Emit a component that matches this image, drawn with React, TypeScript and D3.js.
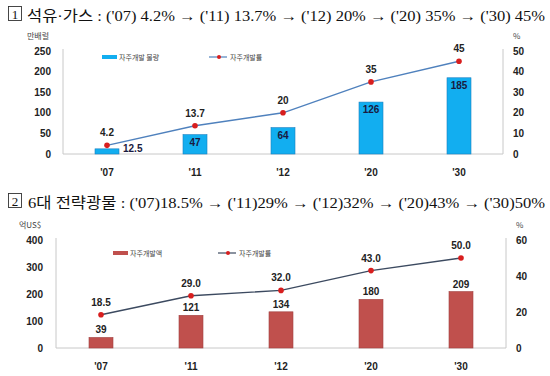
import React from "react";
import * as d3 from "d3";

const years = ["'07", "'11", "'12", "'20", "'30"];
const oilVolume = [12.5, 47, 64, 126, 185];
const oilRate = [4.2, 13.7, 20, 35, 45];
const oilLeftTicks = [0, 50, 100, 150, 200, 250];
const oilRightTicks = [0, 10, 20, 30, 40, 50];
const minAmount = [39, 121, 134, 180, 209];
const minRate = [18.5, 29.0, 32.0, 43.0, 50.0];
const minLeftTicks = [0, 100, 200, 300, 400];
const minRightTicks = [0, 20, 40, 60];

const title1 = "석유·가스 : ('07) 4.2% → ('11) 13.7% → ('12) 20% → ('20) 35% → ('30) 45%";
const title2 = "6대  전략광물 : ('07)18.5% → ('11)29% → ('12)32% → ('20)43% → ('30)50%";

type Cfg = {
  x0: number; x1: number; y0: number; y1: number;
  bars: number[]; rates: number[];
  leftTicks: number[]; rightTicks: number[];
  leftMax: number; rightMax: number;
  barColor: string; barStroke: string; lineColor: string;
  unit: string; barLegend: string; lineLegend: string;
  legendBarX: number; legendLineX: number; legendY: number;
  leftLabelX: number;
  barLabelInside: boolean;
  rateFmt: (v: number) => string;
  barFmt: (v: number) => string;
};

function Chart({ c }: { c: Cfg }) {
  const x = d3.scaleBand<string>().domain(years).range([c.x0, c.x1]);
  const yL = d3.scaleLinear().domain([0, c.leftMax]).range([c.y0, c.y1]);
  const yR = d3.scaleLinear().domain([0, c.rightMax]).range([c.y0, c.y1]);
  const bw = 24;
  const cx = (d: string) => (x(d) as number) + x.bandwidth() / 2;
  const line = d3.line<number>().x((_, i) => cx(years[i])).y((v) => yR(v));
  const tickFont = { fontFamily: "Liberation Sans, Arial, sans-serif", fontWeight: 700, fontSize: 10, fill: "#222" };
  const legFont = { fontFamily: "Noto Sans CJK KR, sans-serif", fontSize: 7, fill: "#444" };
  return (
    <g>
      <line x1={c.x0} x2={c.x0} y1={c.y1 - 2} y2={c.y0} stroke="#c8c8c8" />
      <line x1={c.x1} x2={c.x1} y1={c.y1 - 2} y2={c.y0} stroke="#c8c8c8" />
      <line x1={c.x0} x2={c.x1} y1={c.y0} y2={c.y0} stroke="#c8c8c8" />
      {c.leftTicks.map((t) => (
        <text key={"l" + t} x={c.leftLabelX} y={yL(t) + 3.5} textAnchor="end" {...tickFont}>{t}</text>
      ))}
      {c.rightTicks.map((t) => (
        <text key={"r" + t} x={c.x1 + 10} y={yR(t) + 3.5} textAnchor="start" {...tickFont}>{t}</text>
      ))}
      <text x={c.leftLabelX - 24} y={c.y1 - 12} {...legFont} fontSize={8}>{c.unit}</text>
      <text x={c.x1 + 10} y={c.y1 - 12} {...legFont} fontSize={8}>%</text>
      {years.map((d) => (
        <text key={"c" + d} x={cx(d)} y={c.y0 + 22} textAnchor="middle" {...tickFont}>{d}</text>
      ))}
      {c.bars.map((v, i) => (
        <rect key={"b" + i} x={cx(years[i]) - bw / 2} y={yL(v)} width={bw} height={c.y0 - yL(v)}
          fill={c.barColor} stroke={c.barStroke} strokeWidth={0.6} />
      ))}
      {c.bars.map((v, i) => {
        const bx = cx(years[i]);
        if (c.barLabelInside) {
          if (i === 0) return <text key={"bl" + i} x={bx + 16} y={c.y0 - 2} {...tickFont} fill="#1a1a40">{c.barFmt(v)}</text>;
          return <text key={"bl" + i} x={bx} y={yL(v) + 11} textAnchor="middle" {...tickFont} fill="#1a1a40">{c.barFmt(v)}</text>;
        }
        return <text key={"bl" + i} x={bx} y={yL(v) - 4} textAnchor="middle" {...tickFont}>{c.barFmt(v)}</text>;
      })}
      <path d={line(c.rates) as string} fill="none" stroke={c.lineColor} strokeWidth={1.4} />
      {c.rates.map((v, i) => (
        <circle key={"p" + i} cx={cx(years[i])} cy={yR(v)} r={2.8} fill="#d81e1e" />
      ))}
      {c.rates.map((v, i) => (
        <text key={"pl" + i} x={cx(years[i])} y={yR(v) - 9} textAnchor="middle" {...tickFont}>{c.rateFmt(v)}</text>
      ))}
      <rect x={c.legendBarX} y={c.legendY - 2} width={15} height={4} fill={c.barColor} />
      <text x={c.legendBarX + 17} y={c.legendY + 2.5} {...legFont}>{c.barLegend}</text>
      <line x1={c.legendLineX} x2={c.legendLineX + 18} y1={c.legendY} y2={c.legendY} stroke={c.lineColor} strokeWidth={1.2} />
      <circle cx={c.legendLineX + 10} cy={c.legendY} r={2} fill="#d81e1e" />
      <text x={c.legendLineX + 21} y={c.legendY + 2.5} {...legFont}>{c.lineLegend}</text>
    </g>
  );
}

function Title({ y, num, text, tx, len }: { y: number; num: string; text: string; tx: number; len: number }) {
  return (
    <g>
      <rect x={8.5} y={y - 14.5} width={13} height={14} fill="none" stroke="#333" strokeWidth={0.9} />
      <text x={15} y={y - 2.5} textAnchor="middle" fontFamily="Liberation Serif, serif" fontSize={13} fill="#111">{num}</text>
      <text x={tx} y={y} fontFamily="Liberation Serif, Noto Sans CJK KR, serif" fontSize={15} fill="#111"
        textLength={len} lengthAdjust="spacingAndGlyphs">{text}</text>
    </g>
  );
}

export default function App() {
  const c1: Cfg = {
    x0: 63, x1: 503, y0: 154, y1: 51,
    bars: oilVolume, rates: oilRate, leftTicks: oilLeftTicks, rightTicks: oilRightTicks,
    leftMax: 250, rightMax: 50, barColor: "#12aef0", barStroke: "#1a7fc0", lineColor: "#4f81bd",
    unit: "만배럴", barLegend: "자주개발 물량", lineLegend: "자주개발률",
    legendBarX: 102, legendLineX: 209, legendY: 57, leftLabelX: 51, barLabelInside: true,
    rateFmt: (v) => String(v), barFmt: (v) => String(v),
  };
  const c2: Cfg = {
    x0: 56, x1: 506, y0: 348, y1: 240,
    bars: minAmount, rates: minRate, leftTicks: minLeftTicks, rightTicks: minRightTicks,
    leftMax: 400, rightMax: 60, barColor: "#c0504d", barStroke: "#a04040", lineColor: "#3c4a60",
    unit: "억US$", barLegend: "자주개발액", lineLegend: "자주개발률",
    legendBarX: 113, legendLineX: 218, legendY: 253, leftLabelX: 43, barLabelInside: false,
    rateFmt: (v) => v.toFixed(1), barFmt: (v) => String(v),
  };
  return (
    <svg width={550} height={376} style={{ position: "absolute", left: 0, top: 0, background: "#fff" }}>
      <rect width={550} height={376} fill="#fff" />
      <Title y={21} num="1" text={title1} tx={27} len={518} />
      <Title y={208} num="2" text={title2} tx={28} len={517} />
      <Chart c={c1} />
      <Chart c={c2} />
    </svg>
  );
}
